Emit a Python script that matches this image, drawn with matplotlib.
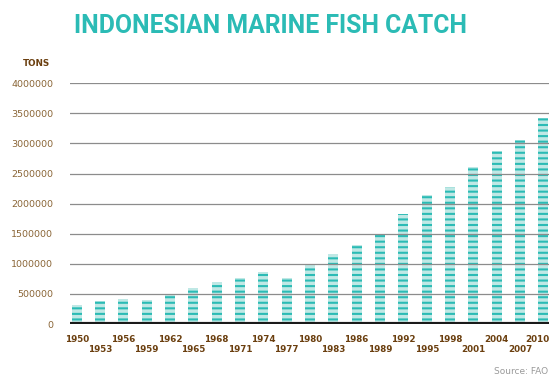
import numpy as np
import matplotlib.pyplot as plt

# 数据：印尼海洋捕捞量（吨），每三年一个值
years = [1950, 1953, 1956, 1959, 1962, 1965, 1968, 1971, 1974, 1977, 1980,
         1983, 1986, 1989, 1992, 1995, 1998, 2001, 2004, 2007, 2010]
catch_tons = [310000, 390000, 410000, 400000, 500000, 600000, 690000, 760000,
              870000, 760000, 990000, 1160000, 1320000, 1480000, 1830000,
              2150000, 2270000, 2610000, 2880000, 3060000, 3420000]
y_ticks = [0, 500000, 1000000, 1500000, 2000000, 2500000, 3000000, 3500000, 4000000]

TEAL = '#2bbbb5'
BROWN = '#6b3f0f'
TICK_BROWN = '#8a6536'

plt.rcParams['hatch.linewidth'] = 1.5

fig = plt.figure(figsize=(5.49, 3.76), dpi=100)
ax = fig.add_axes([70 / 549, 52 / 376, 479 / 549, 240.7 / 376])

x = np.arange(len(years))
ax.bar(x, catch_tons, width=0.43, color='#bfe8e5', edgecolor=TEAL,
       linewidth=0, hatch='---', zorder=2)

for v in y_ticks[1:]:
    ax.axhline(v, color='#8c8c8c', linewidth=0.9, zorder=3)
ax.axhline(0, color='#1a1a1a', linewidth=3, zorder=4)

ax.set_xlim(-0.287, 20.24)
ax.set_ylim(0, 4000000)
ax.set_yticks(y_ticks)
ax.set_yticklabels([str(v) for v in y_ticks], fontsize=6.8, color=TICK_BROWN)
ax.tick_params(axis='y', length=0, pad=12)
ax.set_xticks([])
for s in ax.spines.values():
    s.set_visible(False)

# x 轴年份标签，上下交错（最后一个贴右边）
for i, yr in enumerate(years):
    yoff = -11.5 if i % 2 == 0 else -18.7
    xoff = -4 if i == len(years) - 1 else 0
    ax.annotate(str(yr), (i, 0), xytext=(xoff, yoff), textcoords='offset points',
                ha='center', va='center', fontsize=6.3, fontweight='bold',
                color=BROWN, annotation_clip=False)

fig.text(50 / 549, 1 - 63 / 376, 'TONS', ha='right', va='center',
         fontsize=6.3, fontweight='bold', color=BROWN)
fig.text(270 / 549, 1 - 26 / 376, 'INDONESIAN MARINE FISH CATCH', ha='center',
         va='center', fontsize=17.8, fontweight='bold', color=TEAL,
         family=['Roboto', 'DejaVu Sans'])
fig.text(548 / 549, 1 - 371 / 376, 'Source: FAO', ha='right', va='center',
         fontsize=6.5, color='#9a9a9a')

fig.savefig('out.png', dpi=100)
